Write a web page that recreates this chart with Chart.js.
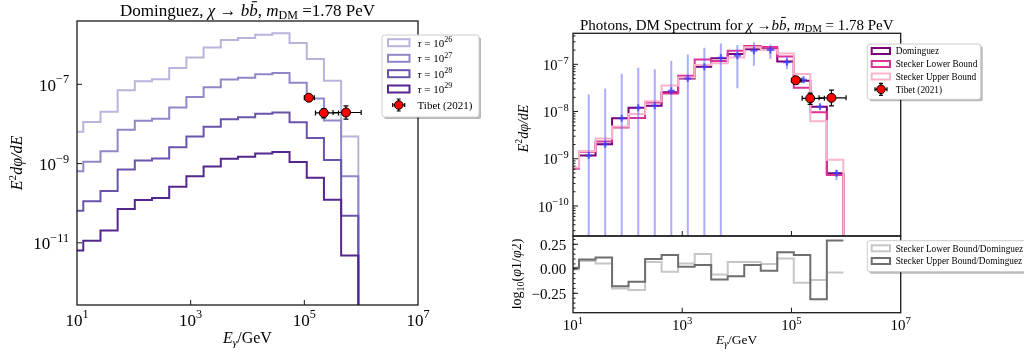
<!DOCTYPE html>
<html>
<head>
<meta charset="utf-8">
<script src="https://cdn.jsdelivr.net/npm/chart.js@4.4.1/dist/chart.umd.min.js"></script>
<style>
html, body { margin: 0; padding: 0; background: #ffffff; }
#wrap { position: relative; width: 1024px; height: 356px; overflow: hidden; }
canvas { position: absolute; top: 0; }
</style>
</head>
<body>
<div id="wrap">
    <canvas id="leftChart" width="512" height="356" style="left:0px"></canvas>
    <canvas id="specChart" width="512" height="356" style="left:512px"></canvas>
    <canvas id="ratioChart" width="512" height="356" style="left:512px"></canvas>
</div>
<script>
// bin edges in GeV (17 bins)
const binEdges = [6.46, 12.9, 25.9, 51.9, 104, 209, 419, 841, 1689, 3388, 6800, 13650, 27380, 54950, 110300, 221300, 444200, 891300];

// left panel: Dominguez EBL, different lifetimes
const tauExps = [26, 27, 28, 29];
const tau26 = [6.4e-9, 1.12e-8, 2.04e-8, 7.1e-8, 1.2e-7, 1.35e-7, 2.6e-7, 4.8e-7, 8.5e-7, 1.32e-6, 1.48e-6, 1.8e-6, 1.95e-6, 1.1e-6, 4.4e-7, 1.23e-7, 4.8e-9];
const tau27 = [6.4e-10, 1.12e-9, 2.04e-9, 7.1e-9, 1.2e-8, 1.35e-8, 2.6e-8, 4.8e-8, 8.5e-8, 1.32e-7, 1.48e-7, 1.8e-7, 1.95e-7, 1.1e-7, 4.4e-8, 1.23e-8, 4.8e-10];
const tau28 = [6.4e-11, 1.12e-10, 2.04e-10, 7.1e-10, 1.2e-9, 1.35e-9, 2.6e-9, 4.8e-9, 8.5e-9, 1.32e-8, 1.48e-8, 1.8e-8, 1.95e-8, 1.1e-8, 4.4e-9, 1.23e-9, 4.8e-11];
const tau29 = [6.4e-12, 1.12e-11, 2.04e-11, 7.1e-11, 1.2e-10, 1.35e-10, 2.6e-10, 4.8e-10, 8.5e-10, 1.32e-9, 1.48e-9, 1.8e-9, 1.95e-9, 1.1e-9, 4.4e-10, 1.23e-10, 4.8e-12];

// right panel: EBL models
const dominguez = [6.3e-10, 1.17e-9, 2.04e-9, 7.2e-9, 1.2e-8, 1.32e-8, 2.57e-8, 5.0e-8, 8.9e-8, 1.35e-7, 1.66e-7, 2.09e-7, 2.09e-7, 1.15e-7, 4.5e-8, 1.26e-8, 4.9e-10];
const steckerLower = [6.2e-10, 1.41e-9, 2.32e-9, 4.6e-9, 7.3e-9, 1.55e-8, 2.4e-8, 5.7e-8, 1.26e-7, 1.18e-7, 1.95e-7, 2.45e-7, 2.33e-7, 1.47e-7, 3.2e-8, 9.7e-9, 4.5e-10];
const steckerUpper = [6.5e-10, 1.46e-9, 2.67e-9, 4.8e-9, 8.9e-9, 1.66e-8, 3.55e-8, 5.25e-8, 9.7e-8, 1.05e-7, 1.4e-7, 2.29e-7, 2.0e-7, 1.7e-7, 6.2e-8, 6.2e-9, 9.5e-10];

// ratio panel, log10(phi1/phi2)
const ratioLower = [-0.006, 0.08, 0.055, -0.2, -0.217, 0.07, -0.03, 0.055, 0.15, -0.057, 0.07, 0.07, 0.048, 0.106, -0.143, -0.115, -0.037];
const ratioUpper = [0.01, 0.095, 0.116, -0.177, -0.132, 0.099, 0.14, 0.02, 0.038, -0.108, -0.075, 0.04, -0.02, 0.17, 0.14, -0.31, 0.29];

// blue points with error bars
const simE = [19.4, 38.9, 78, 156.5, 314, 630, 1265, 2539, 5094, 10225, 20515, 41165, 82625, 165800, 332750, 667750];
const simFlux = [1.17e-9, 2.04e-9, 7.2e-9, 1.2e-8, 1.32e-8, 2.75e-8, 5.0e-8, 8.9e-8, 1.38e-7, 1.51e-7, 1.95e-7, 2.0e-7, 1.1e-7, 4.7e-8, 1.26e-8, 4.9e-10];
const simFluxHigh = [2.29e-8, 3.09e-8, 6.3e-8, 8.5e-8, 7.9e-8, 1.17e-7, 1.62e-7, 2.24e-7, 2.75e-7, 2.57e-7, 2.95e-7, 2.63e-7, 1.45e-7, 5.25e-8, 1.38e-8, 5.75e-10];
const simFluxLow = [1e-12, 1e-12, 1e-12, 1e-12, 1e-12, 1e-12, 1e-12, 1e-12, 1e-12, 3.1e-8, 9.3e-8, 1.29e-7, 7.9e-8, 4.0e-8, 1.17e-8, 3.5e-10];

// Tibet ASgamma (2021)
const tibetE = [1.2e5, 2.2e5, 5.4e5];
const tibetELow = [1.0e5, 1.57e5, 3.2e5];
const tibetEHigh = [1.5e5, 4.0e5, 1.0e6];
const tibetFlux = [4.6e-8, 1.9e-8, 1.95e-8];
const tibetFluxLow = [3.8e-8, 1.42e-8, 1.32e-8];
const tibetFluxHigh = [5.5e-8, 2.45e-8, 2.85e-8];

// tick labels
const xTickExps = [1, 3, 5, 7];
const leftYTickExps = [-7, -9, -11];
const specYTickExps = [-7, -8, -9, -10];
const ratioYTicks = [0.25, 0, -0.25];

const SERIF = '"Liberation Serif", "DejaVu Serif", serif';

function seg(t, size, o) {
    return Object.assign({ t: t, size: size, italic: false, dy: 0 }, o || {});
}
function it(t, size, o) {
    return seg(t, size, Object.assign({ italic: true }, o || {}));
}
function fontOf(s) {
    return (s.italic ? 'italic ' : '') + s.size + 'px ' + SERIF;
}

function drawRich(ctx, segs, x, y, align) {
    let total = 0;
    segs.forEach(s => {
        ctx.font = fontOf(s);
        s.w = ctx.measureText(s.t).width;
        total += s.w;
    });
    let cx = x;
    if (align === 'center') cx = x - total / 2;
    if (align === 'right') cx = x - total;
    ctx.textAlign = 'left';
    ctx.textBaseline = 'alphabetic';
    segs.forEach(s => {
        ctx.font = fontOf(s);
        ctx.fillText(s.t, cx, y + s.dy);
        if (s.bar) {
            ctx.fillRect(cx + s.w * 0.3, y + s.dy - s.size * 0.84, s.w * 0.6, Math.max(1, s.size * 0.06));
        }
        cx += s.w;
    });
}

function drawRotated(ctx, segs, x, y) {
    ctx.save();
    ctx.translate(x, y);
    ctx.rotate(-Math.PI / 2);
    drawRich(ctx, segs, 0, 0, 'center');
    ctx.restore();
}

function powTen(exp, size) {
    const e = (exp < 0 ? '\u2212' : '') + Math.abs(exp);
    return [seg('10', size), seg(e, size * 0.72, { dy: -size * 0.42 })];
}

function fluxLabel(size) {
    return [it('E', size), seg('2', size * 0.7, { dy: -size * 0.4 }), it('d\u03c6/dE', size)];
}

function energyLabel(size) {
    return [it('E', size), it('\u03b3', size * 0.7, { dy: size * 0.2 }), seg('/GeV', size)];
}

// histogram outline: each value holds from its left edge to the next edge
function stepPoints(values, floor) {
    const pts = [{ x: binEdges[0], y: values[0] }];
    values.forEach((v, i) => pts.push({ x: binEdges[i + 1], y: v }));
    if (floor !== undefined) pts.push({ x: binEdges[values.length], y: floor });
    return pts;
}

function stepSet(label, values, color, floor, order) {
    return {
        label: label,
        data: stepPoints(values, floor),
        borderColor: color,
        backgroundColor: color,
        borderWidth: 2,
        pointRadius: 0,
        stepped: 'after',
        fill: false,
        order: order
    };
}

function tibetSet(order) {
    return {
        label: 'Tibet (2021)',
        data: tibetE.map((e, i) => ({ x: e, y: tibetFlux[i] })),
        showLine: false,
        pointStyle: 'circle',
        pointRadius: 4.5,
        pointBackgroundColor: '#ff0000',
        pointBorderColor: '#000000',
        pointBorderWidth: 1,
        order: order,
        err: { xLow: tibetELow, xHigh: tibetEHigh, yLow: tibetFluxLow, yHigh: tibetFluxHigh, color: '#000000', width: 1.2, cap: 2.5 }
    };
}

// error bars drawn just before the markers of their dataset
const errorBars = {
    id: 'errorBars',
    beforeDatasetDraw(chart, args) {
        const ds = chart.data.datasets[args.index];
        if (!ds.err) return;
        const ctx = chart.ctx, a = chart.chartArea, xs = chart.scales.x, ys = chart.scales.y;
        const err = ds.err;
        ctx.save();
        ctx.beginPath();
        ctx.rect(a.left, a.top, a.right - a.left, a.bottom - a.top);
        ctx.clip();
        ctx.strokeStyle = err.color;
        ctx.lineWidth = err.width;
        ds.data.forEach((p, i) => {
            const px = xs.getPixelForValue(p.x), py = ys.getPixelForValue(p.y);
            ctx.beginPath();
            if (err.yLow) {
                const y1 = ys.getPixelForValue(err.yLow[i]), y2 = ys.getPixelForValue(err.yHigh[i]);
                ctx.moveTo(px, y1);
                ctx.lineTo(px, y2);
                if (err.cap) {
                    ctx.moveTo(px - err.cap, y1); ctx.lineTo(px + err.cap, y1);
                    ctx.moveTo(px - err.cap, y2); ctx.lineTo(px + err.cap, y2);
                }
            }
            if (err.xLow) {
                const x1 = xs.getPixelForValue(err.xLow[i]), x2 = xs.getPixelForValue(err.xHigh[i]);
                ctx.moveTo(x1, py);
                ctx.lineTo(x2, py);
                if (err.cap) {
                    ctx.moveTo(x1, py - err.cap); ctx.lineTo(x1, py + err.cap);
                    ctx.moveTo(x2, py - err.cap); ctx.lineTo(x2, py + err.cap);
                }
            }
            ctx.stroke();
        });
        ctx.restore();
    }
};

function legendBox(ctx, x, y, w, h) {
    ctx.save();
    ctx.fillStyle = 'rgba(0,0,0,0.28)';
    ctx.beginPath();
    ctx.roundRect(x + 2, y + 2, w, h, 2.5);
    ctx.fill();
    ctx.fillStyle = '#ffffff';
    ctx.strokeStyle = '#cccccc';
    ctx.lineWidth = 1;
    ctx.beginPath();
    ctx.roundRect(x, y, w, h, 2.5);
    ctx.fill();
    ctx.stroke();
    ctx.restore();
}

function legendPatch(ctx, x, y, w, h, color) {
    ctx.save();
    ctx.strokeStyle = color;
    ctx.lineWidth = 2;
    ctx.strokeRect(x, y - h / 2, w, h);
    ctx.restore();
}

function legendTibet(ctx, x, y) {
    ctx.save();
    ctx.strokeStyle = '#000000';
    ctx.lineWidth = 1.2;
    ctx.beginPath();
    ctx.moveTo(x - 6, y); ctx.lineTo(x + 6, y);
    ctx.moveTo(x, y - 6); ctx.lineTo(x, y + 6);
    ctx.moveTo(x - 6, y - 2); ctx.lineTo(x - 6, y + 2);
    ctx.moveTo(x + 6, y - 2); ctx.lineTo(x + 6, y + 2);
    ctx.moveTo(x - 2, y - 6); ctx.lineTo(x + 2, y - 6);
    ctx.moveTo(x - 2, y + 6); ctx.lineTo(x + 2, y + 6);
    ctx.stroke();
    ctx.beginPath();
    ctx.arc(x, y, 4.3, 0, Math.PI * 2);
    ctx.fillStyle = '#ff0000';
    ctx.fill();
    ctx.lineWidth = 1;
    ctx.stroke();
    ctx.restore();
}

// frame, inward ticks, labels, titles and legend
function makeDeco(cfg) {
    return {
        id: 'deco',
        afterDraw(chart) {
            const ctx = chart.ctx, a = chart.chartArea, xs = chart.scales.x, ys = chart.scales.y;
            ctx.save();
            ctx.strokeStyle = '#1a1a1a';
            ctx.lineWidth = 1.3;
            ctx.strokeRect(a.left, a.top, a.right - a.left, a.bottom - a.top);
            ctx.lineWidth = 1;
            ctx.beginPath();
            (cfg.xTicks || []).forEach(v => {
                const px = xs.getPixelForValue(v);
                if (px > a.left + 1 && px < a.right - 1) {
                    ctx.moveTo(px, a.bottom);
                    ctx.lineTo(px, a.bottom - 5);
                }
            });
            (cfg.yTicks || []).forEach(v => {
                const py = ys.getPixelForValue(v);
                if (py > a.top + 1 && py < a.bottom - 1) {
                    ctx.moveTo(a.left, py);
                    ctx.lineTo(a.left + 5, py);
                }
            });
            (cfg.yMinor || []).forEach(v => {
                const py = ys.getPixelForValue(v);
                if (py > a.top + 1 && py < a.bottom - 1) {
                    ctx.moveTo(a.left, py);
                    ctx.lineTo(a.left + 2.5, py);
                }
            });
            ctx.stroke();
            ctx.fillStyle = '#000000';
            (cfg.xLabels || []).forEach(l => drawRich(ctx, l.segs, xs.getPixelForValue(l.v), cfg.xLabelBase, 'center'));
            (cfg.yLabels || []).forEach(l => drawRich(ctx, l.segs, cfg.yLabelRight, ys.getPixelForValue(l.v) + cfg.yLabelShift, 'right'));
            if (cfg.extra) cfg.extra(ctx, chart);
            ctx.restore();
        }
    };
}

function baseOptions(padding, xType, yType, yMin, yMax) {
    return {
        responsive: false,
        animation: false,
        events: [],
        layout: { padding: padding },
        plugins: { legend: { display: false }, title: { display: false }, tooltip: { enabled: false } },
        scales: {
            x: { type: xType, min: 10, max: 1e7, display: false },
            y: { type: yType, min: yMin, max: yMax, display: false }
        }
    };
}

const tauColors = ['#b9b4dc', '#8f88c8', '#6a54ab', '#54278f'];
const specColors = { dominguez: '#7a0177', lower: '#dd3497', upper: '#fbb4c9' };
const ratioColors = { lower: '#c6c6c6', upper: '#6e6e6e' };

function renderLeftChart() {
    const floor = 1e-20;
    const tauSets = [tau26, tau27, tau28, tau29].map((vals, i) =>
        stepSet('tau = 1e' + tauExps[i], vals, tauColors[i], floor, 10 - i));
    new Chart(document.getElementById('leftChart'), {
        type: 'line',
        data: { datasets: [tibetSet(1)].concat(tauSets) },
        options: baseOptions({ left: 77, right: 94, top: 21, bottom: 51 }, 'logarithmic', 'logarithmic', 2.69e-13, 3.98e-6),
        plugins: [errorBars, makeDeco({
            xTicks: xTickExps.map(e => Math.pow(10, e)),
            yTicks: leftYTickExps.map(e => Math.pow(10, e)),
            xLabels: xTickExps.map(e => ({ v: Math.pow(10, e), segs: powTen(e, 17) })),
            xLabelBase: 325.5,
            yLabels: leftYTickExps.map(e => ({ v: Math.pow(10, e), segs: powTen(e, 17) })),
            yLabelRight: 69,
            yLabelShift: 6.2,
            extra(ctx) {
                drawRich(ctx, [seg('Dominguez, ', 17), it('\u03c7', 17), seg(' \u2192 ', 17), it('b', 17), it('b', 17, { bar: true }),
                    seg(', ', 17), it('m', 17), seg('DM', 12, { dy: 3 }), seg(' =1.78 PeV', 17)], 247.5, 15.5, 'center');
                drawRich(ctx, energyLabel(16), 247.5, 343, 'center');
                drawRotated(ctx, fluxLabel(16), 22, 163);
                legendBox(ctx, 382, 35, 97, 82);
                const rows = [42.7, 58.3, 73.7, 89];
                tauExps.forEach((e, i) => {
                    legendPatch(ctx, 388, rows[i], 21.5, 7, tauColors[i]);
                    ctx.fillStyle = '#000000';
                    drawRich(ctx, [it('\u03c4', 11), seg(' = 10', 11), seg(String(e), 8, { dy: -4.6 })], 417.5, rows[i] + 3.8, 'left');
                });
                legendTibet(ctx, 398.7, 105);
                ctx.fillStyle = '#000000';
                drawRich(ctx, [seg('Tibet (2021)', 11)], 417.5, 108.8, 'left');
            }
        })]
    });
}

function renderSpecChart() {
    const floor = 1e-20;
    const yMinor = [];
    for (let k = -11; k <= -7; k++) {
        for (let m = 2; m <= 9; m++) yMinor.push(m * Math.pow(10, k));
    }
    new Chart(document.getElementById('specChart'), {
        type: 'line',
        data: {
            datasets: [
                tibetSet(1),
                {
                    label: 'simulated',
                    data: simE.map((e, i) => ({ x: e, y: simFlux[i] })),
                    showLine: false,
                    pointStyle: 'cross',
                    pointRadius: 3.5,
                    pointBorderWidth: 2,
                    pointBorderColor: 'rgba(55,55,255,0.75)',
                    pointBackgroundColor: 'rgba(55,55,255,0.75)',
                    order: 2,
                    err: { yLow: simFluxLow, yHigh: simFluxHigh, color: 'rgba(90,90,255,0.5)', width: 2 }
                },
                stepSet('Stecker Upper Bound', steckerUpper, specColors.upper, floor, 3),
                stepSet('Stecker Lower Bound', steckerLower, specColors.lower, floor, 4),
                stepSet('Dominguez', dominguez, specColors.dominguez, floor, 5)
            ]
        },
        options: baseOptions({ left: 61, right: 123.3, top: 33.3, bottom: 120 }, 'logarithmic', 'logarithmic', 2.31e-11, 4.54e-7),
        plugins: [errorBars, makeDeco({
            xTicks: xTickExps.map(e => Math.pow(10, e)),
            yTicks: specYTickExps.map(e => Math.pow(10, e)),
            yMinor: yMinor,
            yLabels: specYTickExps.map(e => ({ v: Math.pow(10, e), segs: powTen(e, 14.5) })),
            yLabelRight: 56.7,
            yLabelShift: 5.6,
            extra(ctx) {
                drawRich(ctx, [seg('Photons, DM Spectrum for ', 15), it('\u03c7', 15), seg(' \u2192', 15), it('b', 15), it('b', 15, { bar: true }),
                    seg(', ', 15), it('m', 15), seg('DM', 10.5, { dy: 2.8 }), seg(' = 1.78 PeV', 15)], 224.7, 29.5, 'center');
                drawRotated(ctx, fluxLabel(14), 16, 128.5);
                legendBox(ctx, 355.3, 44, 113.4, 55.3);
                const rows = [51, 64, 76.5, 89.3];
                const names = ['Dominguez', 'Stecker Lower Bound', 'Stecker Upper Bound'];
                const cols = [specColors.dominguez, specColors.lower, specColors.upper];
                names.forEach((n, i) => {
                    legendPatch(ctx, 359.7, rows[i], 18.3, 6, cols[i]);
                    ctx.fillStyle = '#000000';
                    drawRich(ctx, [seg(n, 9.3)], 383.7, rows[i] + 3.2, 'left');
                });
                legendTibet(ctx, 369, rows[3]);
                ctx.fillStyle = '#000000';
                drawRich(ctx, [seg('Tibet (2021)', 9.3)], 383.7, rows[3] + 3.2, 'left');
            }
        })]
    });
}

function renderRatioChart() {
    const yMinor = [];
    for (let v = -0.45; v <= 0.33; v += 0.05) yMinor.push(Math.round(v * 100) / 100);
    new Chart(document.getElementById('ratioChart'), {
        type: 'line',
        data: {
            datasets: [
                stepSet('Stecker Upper Bound/Dominguez', ratioUpper, ratioColors.upper, undefined, 1),
                stepSet('Stecker Lower Bound/Dominguez', ratioLower, ratioColors.lower, undefined, 2)
            ]
        },
        options: baseOptions({ left: 61, right: 123.3, top: 236, bottom: 43.3 }, 'logarithmic', 'linear', -0.448, 0.335),
        plugins: [makeDeco({
            xTicks: xTickExps.map(e => Math.pow(10, e)),
            yTicks: ratioYTicks,
            yMinor: yMinor,
            xLabels: xTickExps.map(e => ({ v: Math.pow(10, e), segs: powTen(e, 15) })),
            xLabelBase: 330,
            yLabels: ratioYTicks.map(v => ({ v: v, segs: [seg((v < 0 ? '\u2212' : '') + Math.abs(v).toFixed(2), 15)] })),
            yLabelRight: 54.3,
            yLabelShift: 5.6,
            extra(ctx) {
                drawRich(ctx, energyLabel(13.5), 224.7, 344, 'center');
                drawRotated(ctx, [seg('log', 14), seg('10', 10, { dy: 3 }), seg('(', 14), it('\u03c6', 14), seg('1/', 14), it('\u03c6', 14), seg('2)', 14)], 9, 274);
                legendBox(ctx, 355.3, 240.7, 175, 31);
                const rows = [248.3, 261];
                const names = ['Stecker Lower Bound/Dominguez', 'Stecker Upper Bound/Dominguez'];
                const cols = [ratioColors.lower, ratioColors.upper];
                names.forEach((n, i) => {
                    legendPatch(ctx, 359.7, rows[i], 18.3, 6, cols[i]);
                    ctx.fillStyle = '#000000';
                    drawRich(ctx, [seg(n, 9.3)], 383.7, rows[i] + 3.2, 'left');
                });
            }
        })]
    });
}

renderLeftChart();
renderSpecChart();
renderRatioChart();
</script>
</body>
</html>
